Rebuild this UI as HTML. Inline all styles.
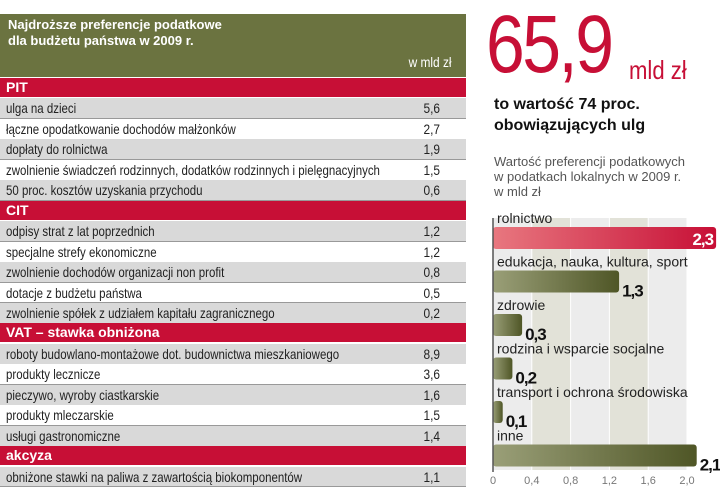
<!DOCTYPE html>
<html><head><meta charset="utf-8"><style>
body{margin:0;width:720px;height:487px;background:#fff;position:relative;overflow:hidden;font-family:"Liberation Sans",sans-serif;}
.a{position:absolute;}
.row{position:absolute;left:0;width:466px;height:20px;font-size:14px;line-height:20px;color:#222;border-bottom:1px solid #999;box-sizing:border-box;}
.row span.l{position:absolute;left:6px;white-space:nowrap;transform:scaleX(0.82);transform-origin:left center;}
.row span.v{position:absolute;left:400px;width:40px;text-align:right;transform:scaleX(0.85);transform-origin:right center;}
.hdr{position:absolute;left:0;width:466px;height:19px;background:#c70f36;color:#fff;font-weight:bold;font-size:14px;line-height:19px;padding-left:6px;box-sizing:border-box;}
</style></head><body>
<div class="a" style="left:0;top:14px;width:466px;height:63px;background:#6b7340;color:#fff;">
 <div class="a" style="left:8px;top:3px;font-size:13px;font-weight:bold;line-height:16px;">Najdroższe preferencje podatkowe<br>dla budżetu państwa w 2009 r.</div>
 <div class="a" style="right:14px;top:40px;font-size:14px;transform:scaleX(0.85);transform-origin:right center;">w mld zł</div>
</div>
<div id="tbl"></div>

<div class="a" style="left:486px;top:-2px;font-size:82px;color:#c70f36;transform:scaleX(0.85);transform-origin:left top;letter-spacing:-3px;">65,9</div>
<div class="a" style="left:629px;top:55px;font-size:26px;color:#c70f36;transform:scaleX(0.85);transform-origin:left top;">mld zł</div>
<div class="a" style="left:494px;top:94px;font-size:16px;font-weight:bold;line-height:21px;color:#111;">to wartość 74 proc.<br>obowiązujących ulg</div>
<div class="a" style="left:494px;top:154px;font-size:13px;line-height:15px;color:#555;">Wartość preferencji podatkowych<br>w podatkach lokalnych w 2009 r.<br>w mld zł</div>
<svg class="a" style="left:0;top:0" width="720" height="487" id="ch"></svg>
<script>
const sections=["PIT","CIT","VAT – stawka obniżona","akcyza"];
const sectionItems=[
 ["ulga na dzieci","łączne opodatkowanie dochodów małżonków","dopłaty do rolnictwa","zwolnienie świadczeń rodzinnych, dodatków rodzinnych i pielęgnacyjnych","50 proc. kosztów uzyskania przychodu"],
 ["odpisy strat z lat poprzednich","specjalne strefy ekonomiczne","zwolnienie dochodów organizacji non profit","dotacje z budżetu państwa","zwolnienie spółek z udziałem kapitału zagranicznego"],
 ["roboty budowlano-montażowe dot. budownictwa mieszkaniowego","produkty lecznicze","pieczywo, wyroby ciastkarskie","produkty mleczarskie","usługi gastronomiczne"],
 ["obniżone stawki na paliwa z zawartością biokomponentów"]];
const sectionValues=[["5,6","2,7","1,9","1,5","0,6"],["1,2","1,2","0,8","0,5","0,2"],["8,9","3,6","1,6","1,5","1,4"],["1,1"]];
const tbl=document.getElementById('tbl');
let y=78;const rh=20.45;
sections.forEach((s,si)=>{
 const h=document.createElement('div');h.className='hdr';h.style.top=y+'px';h.textContent=s;
 
 
 tbl.appendChild(h);y+=rh;
 sectionItems[si].forEach((t,i)=>{
  const r=document.createElement('div');r.className='row';r.style.top=y+'px';r.style.height=(rh+0.5)+'px';
  r.style.background=i%2==0?'#d9d9d9':'#fff';
  
  
  r.innerHTML='<span class="l">'+t+'</span><span class="v">'+sectionValues[si][i]+'</span>';
  tbl.appendChild(r);y+=rh;
 });
});
const cats=["rolnictwo","edukacja, nauka, kultura, sport","zdrowie","rodzina i wsparcie socjalne","transport i ochrona środowiska","inne"];
const vals=[2.3,1.3,0.3,0.2,0.1,2.1];
const valLabels=["2,3","1,3","0,3","0,2","0,1","2,1"];
const ticks=[0,0.4,0.8,1.2,1.6,2.0];
const tickLabels=["0","0,4","0,8","1,2","1,6","2,0"];
const X0=493,K=97,Y0=227,STEP=43.5;
const xs=v=>X0+v*K, ys=i=>Y0+i*STEP;
const svg=document.getElementById('ch');const NS='http://www.w3.org/2000/svg';
function el(n,a){const e=document.createElementNS(NS,n);for(const k in a)e.setAttribute(k,a[k]);svg.appendChild(e);return e;}
svg.innerHTML='<defs><linearGradient id="gr" x1="0" x2="1"><stop offset="0" stop-color="#9a9f78"/><stop offset="1" stop-color="#4f5626"/></linearGradient><linearGradient id="rd" x1="0" x2="1"><stop offset="0" stop-color="#e8777f"/><stop offset="1" stop-color="#c70f36"/></linearGradient></defs>';
for(let i=0;i<ticks.length-1;i++){
 const b=el('rect',{x:xs(ticks[i]),y:218,width:xs(ticks[i+1])-xs(ticks[i]),height:252,fill:i%2==0?'#ececec':'#e2e2d8'});
 
}
ticks.forEach((t,i)=>{
 const l=el('line',{x1:xs(t),x2:xs(t),y1:218,y2:470,stroke:'#fff','stroke-width':1});
 
 const tx=el('text',{x:xs(t),y:484,'font-size':11,fill:'#777','text-anchor':'middle','font-family':'Liberation Sans, sans-serif'});tx.textContent=tickLabels[i];
 
});
cats.forEach((c,i)=>{
 const yb=ys(i);
 const r=el('rect',{x:X0,y:yb,width:xs(vals[i])-X0,height:22,rx:3,fill:i==0?'url(#rd)':'url(#gr)'});
 
 const lb=el('text',{x:X0+4,y:yb-4,'font-size':14,fill:'#222','font-family':'Liberation Sans, sans-serif'});lb.textContent=c;
 
 const inside=i==0;
 const v=el('text',{x:inside?xs(vals[i])-3:xs(vals[i])+3,y:yb+(inside?18:26),'font-size':17,'font-weight':'bold','letter-spacing':-1,fill:inside?'#fff':'#111','text-anchor':inside?'end':'start','font-family':'Liberation Sans, sans-serif'});v.textContent=valLabels[i];
 
});
const ax=el('line',{x1:X0,x2:X0,y1:218,y2:472,stroke:'#555','stroke-width':1.5});

</script>
</body></html>
